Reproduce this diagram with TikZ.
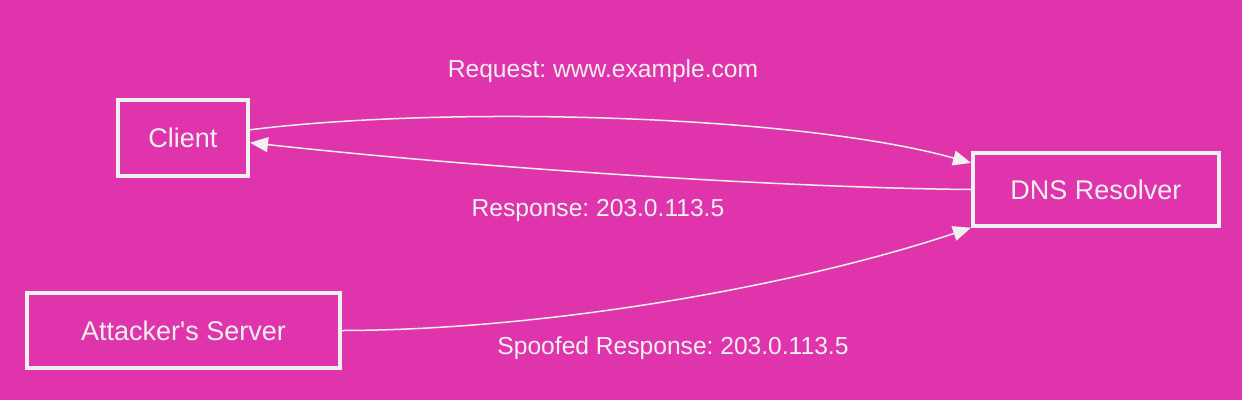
\documentclass[tikz,border=0pt]{standalone}
\usepackage{fontspec}
\setmainfont{Liberation Sans}
\usepackage{xcolor}
\usepackage{tikz}
\usetikzlibrary{arrows.meta}

\definecolor{bgpink}{RGB}{224,52,173}
\definecolor{linegray}{RGB}{240,240,240}
\frenchspacing

\begin{document}
\begin{tikzpicture}[
      x=1pt, y=-1pt,
      box/.style={rectangle, draw=linegray, line width=4pt, text=linegray,
        font=\fontsize{27}{32}\selectfont, inner sep=0pt},
      flow/.style={draw=linegray, line width=1.5pt,
        -{Triangle[length=18pt, width=15pt, fill=linegray]}},
      lbl/.style={text=linegray, font=\fontsize{24.6}{29}\selectfont}
    ]
      \fill[bgpink] (0,0) rectangle (1242,400);
      \node[box, minimum width=130pt, minimum height=76pt] (client) at (183,138) {Client};
      \node[box, minimum width=246pt, minimum height=73pt] (resolver) at (1096,189.5) {DNS Resolver};
      \node[box, minimum width=313pt, minimum height=75pt] (attacker) at (183.5,330.5) {Attacker\textquotesingle s Server};

      \draw[flow] (client.7) .. controls (450,105) and (800,115) .. (resolver.168);
      \draw[flow] (resolver.west) .. controls (800,188) and (500,170) .. (client.356);
      \draw[flow] (attacker.east) .. controls (550,330) and (800,285) .. (resolver.197);

      \node[lbl] (reqlabel) at (603,71) {Request: www.example.com};
      \node[lbl] (resplabel) at (598,210) {Response: 203.0.113.5};
      \node[lbl] (spooflabel) at (673,348) {Spoofed Response: 203.0.113.5};
    \end{tikzpicture}
\end{document}
